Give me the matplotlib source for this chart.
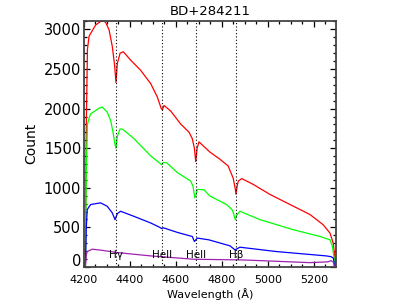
import matplotlib
matplotlib.use('Agg')
import matplotlib.pyplot as plt
import matplotlib.transforms as mtransforms
from matplotlib.ticker import MultipleLocator

# spectra (wavelength in A, counts)
red_wl = [4200, 4206, 4210, 4215, 4222, 4229, 4251, 4272, 4285, 4294, 4309, 4323, 4333, 4339,
          4345, 4357, 4371, 4403, 4446, 4490, 4519, 4536, 4541, 4548, 4577, 4620, 4657, 4671,
          4680, 4686, 4692, 4700, 4748, 4791, 4827, 4849, 4857, 4861, 4866, 4871, 4886, 4936,
          5009, 5096, 5183, 5240, 5270, 5284, 5290, 5295]
red_ct = [0, 0, 1800, 2750, 2913, 2950, 3057, 3100, 3105, 3090, 2994, 2786, 2550, 2330,
          2570, 2700, 2718, 2612, 2485, 2316, 2146, 2000, 1985, 2040, 1970, 1807, 1701, 1620,
          1500, 1330, 1500, 1580, 1450, 1361, 1276, 1120, 1000, 920, 1020, 1085, 1116, 1043,
          916, 789, 662, 534, 428, 300, 150, 0]

green_wl = [4200, 4206, 4210, 4215, 4222, 4229, 4251, 4265, 4280, 4301, 4316, 4326, 4334, 4339,
            4345, 4357, 4368, 4417, 4490, 4530, 4538, 4545, 4560, 4606, 4664, 4674, 4682, 4688,
            4693, 4722, 4748, 4820, 4845, 4853, 4858, 4865, 4878, 4965, 5110, 5226, 5270, 5281,
            5288, 5292]
green_ct = [0, 0, 1200, 1800, 1880, 1934, 1976, 2005, 2019, 1955, 1849, 1705, 1560, 1500,
            1650, 1743, 1740, 1622, 1403, 1310, 1290, 1320, 1315, 1192, 1085, 1020, 874, 920,
            980, 975, 895, 789, 720, 650, 598, 660, 704, 598, 471, 386, 343, 258,
            100, 0]

blue_wl = [4200, 4206, 4210, 4214, 4229, 4272, 4301, 4323, 4335, 4345, 4359, 4417, 4490, 4530,
           4538, 4545, 4606, 4671, 4680, 4693, 4743, 4835, 4857, 4878, 5037, 5254, 5275, 5285,
           5290]
blue_ct = [0, 0, 500, 725, 789, 810, 767, 683, 598, 674, 704, 640, 556, 500,
           485, 495, 437, 385, 322, 365, 343, 267, 216, 250, 195, 140, 130, 110,
           0]

purple_wl = [4200, 4206, 4210, 4214, 4236, 4280, 4345, 4490, 4678, 4893, 5183, 5260, 5275, 5285, 5290]
purple_ct = [0, 0, 150, 195, 225, 210, 182, 140, 98, 89, 55, 65, 80, 60, 0]

line_wl = [4340, 4541, 4686, 4861]
line_names = ['H\u03b3', 'HeII', 'HeII', 'H\u03b2']

fig = plt.figure(figsize=(4.2, 3.0), dpi=100)
ax = fig.add_axes([0.2, 0.11, 0.6, 0.821])

ax.plot(red_wl, red_ct, color='#ff0000', lw=0.9)
ax.plot(green_wl, green_ct, color='#00ff00', lw=0.9)
ax.plot(blue_wl, blue_ct, color='#0000ff', lw=0.9)
ax.plot(purple_wl, purple_ct, color='#a020b0', lw=0.9)

for wl, name in zip(line_wl, line_names):
    ax.axvline(wl, color='black', ls=(0, (1, 2)), lw=0.8)
    ax.text(wl, 150, name, ha='center', va='center', fontsize=7.5)

ax.set_xlim(4200, 5296)
ax.set_ylim(0, 3110)
ax.xaxis.set_major_locator(MultipleLocator(200))
ax.xaxis.set_minor_locator(MultipleLocator(50))
ax.yaxis.set_major_locator(MultipleLocator(500))
ax.yaxis.set_minor_locator(MultipleLocator(100))
ax.tick_params(which='both', direction='in', top=True, right=True, width=0.9)
ax.tick_params(which='major', length=4.5)
ax.tick_params(which='minor', length=2.5)
ax.tick_params(axis='x', labelsize=8, pad=6)
ax.tick_params(axis='y', labelsize=10.5, pad=2)
for s in ax.spines.values():
    s.set_linewidth(1.3)
    s.set_color('#444444')

# lift the "0" label a little so it clears the 4200 label, as in the reference
fig.canvas.draw()
lift = mtransforms.ScaledTranslation(0, 5 / 72, fig.dpi_scale_trans)
for lab in ax.get_yticklabels():
    if lab.get_text() == '0':
        lab.set_transform(lab.get_transform() + lift)

ax.set_xlabel('Wavelength (\u00c5)', fontsize=8, labelpad=2)
ax.set_ylabel('Count', fontsize=10)
ax.set_title('BD+284211', fontsize=9.5, pad=4)

fig.savefig('out.png', dpi=100)
